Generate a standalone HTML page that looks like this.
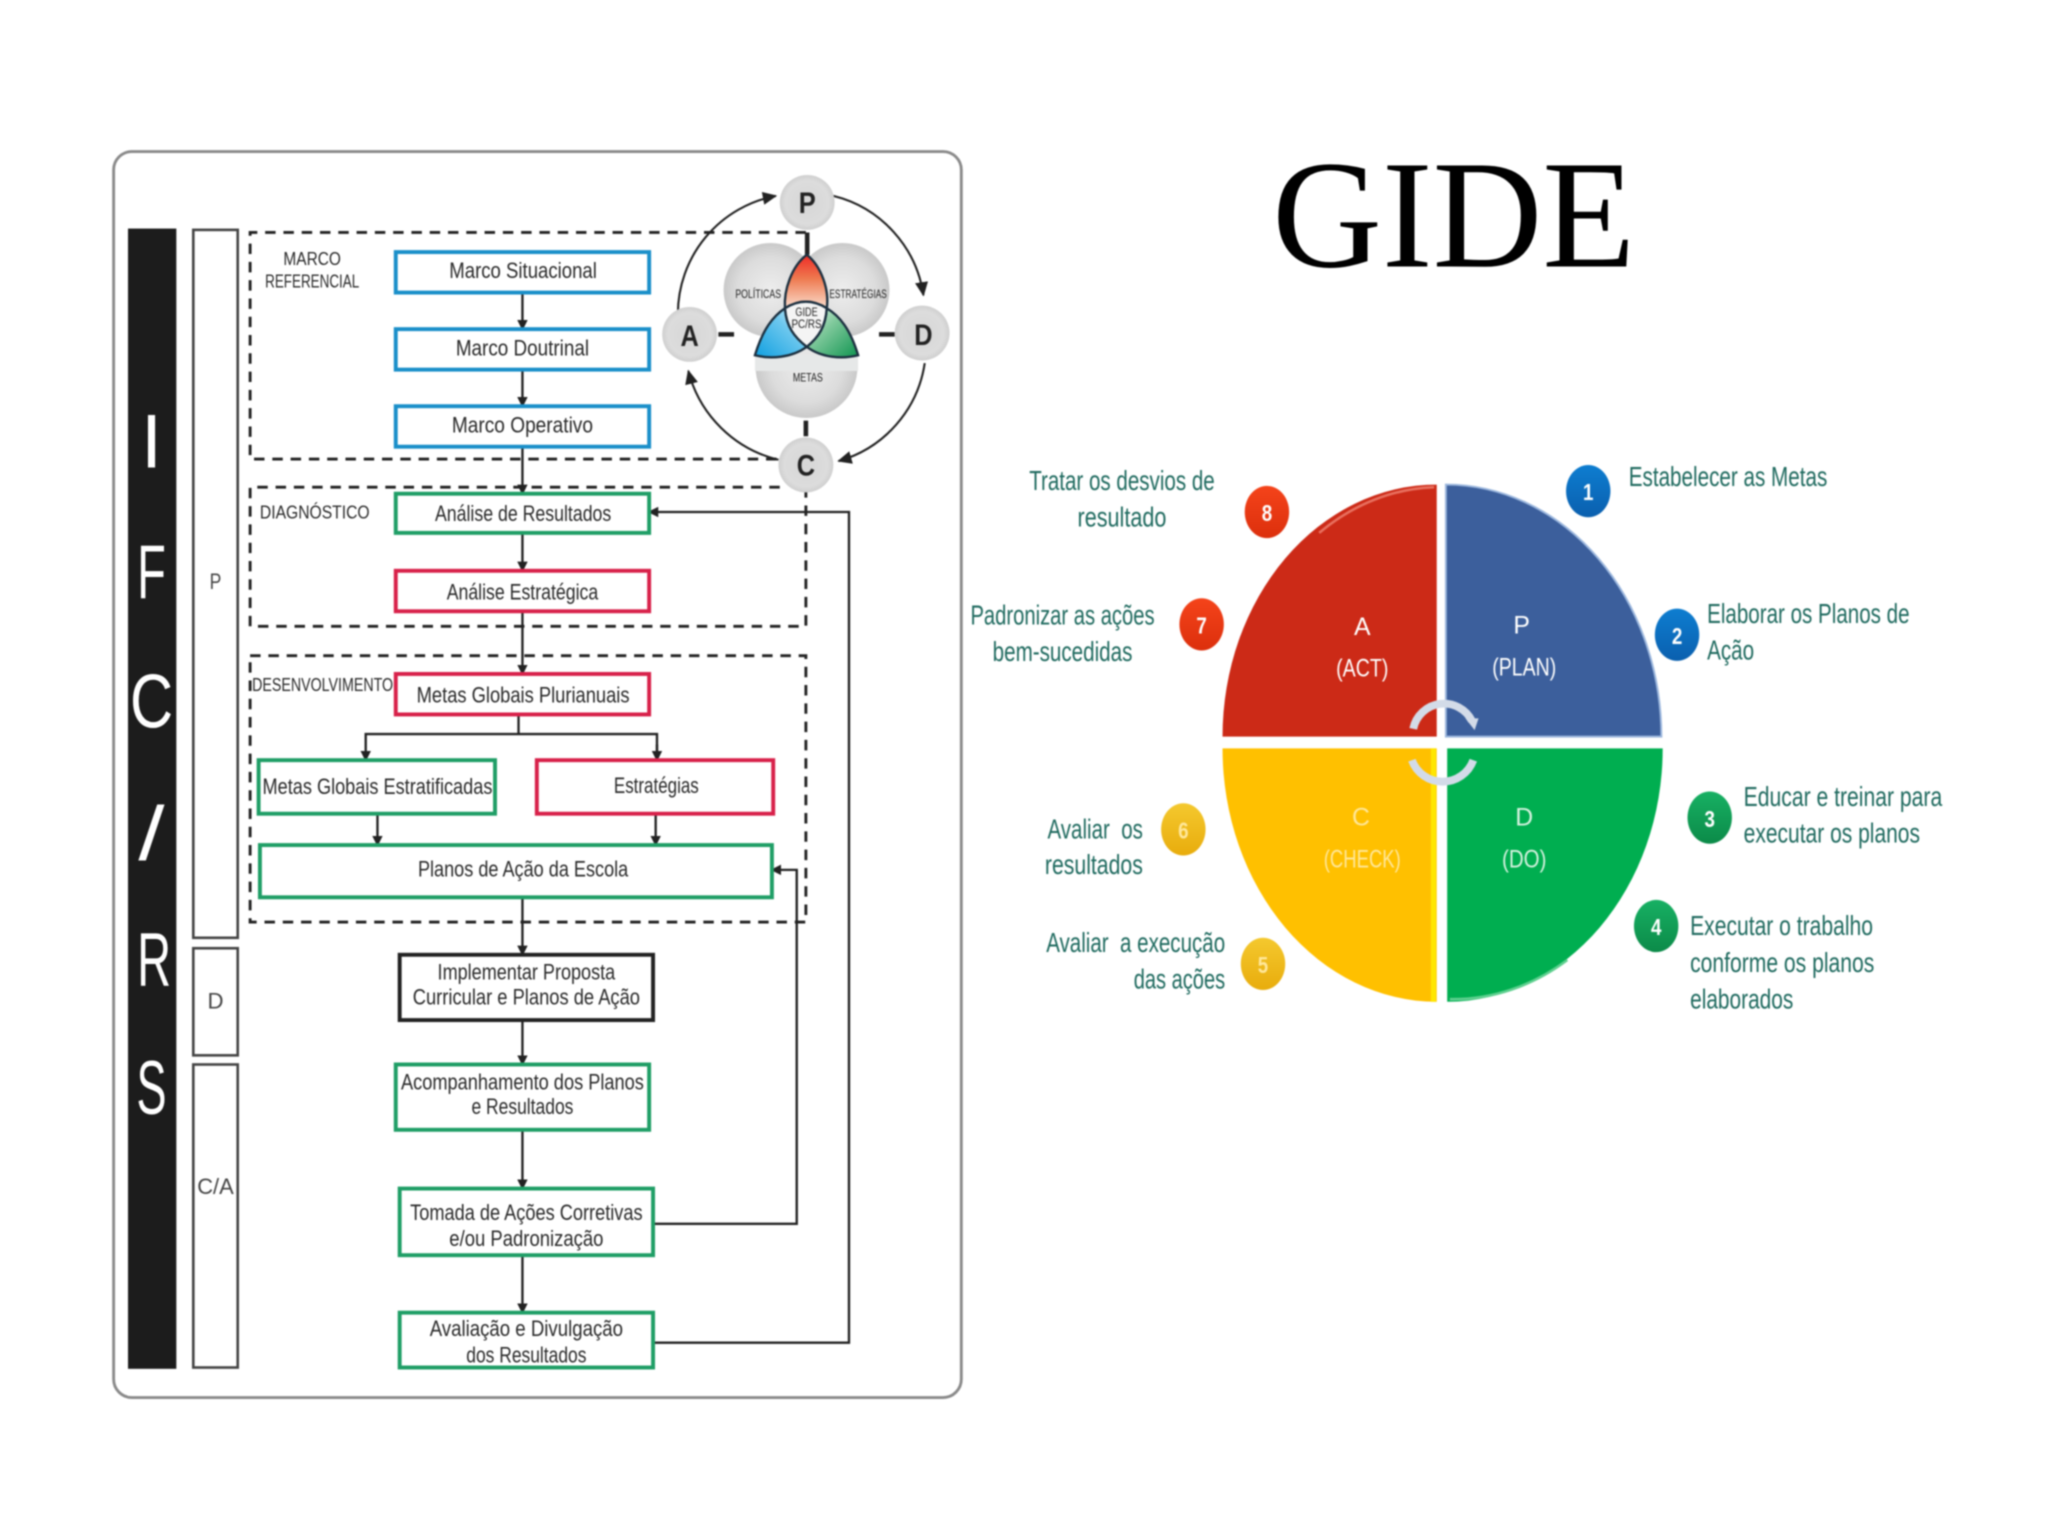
<!DOCTYPE html>
<html><head><meta charset="utf-8"><title>GIDE</title>
<style>
html,body{margin:0;padding:0;background:#fff}
svg{display:block;width:2048px;height:1536px;filter:blur(.9px)}
text{font-family:"Liberation Sans",sans-serif}
.q{font-size:19px;fill:#fff;text-anchor:middle}
.n{font-size:18px;fill:#fff;font-weight:bold;text-anchor:middle}
.b{fill:#fff;stroke-width:3}
.ln{fill:none;stroke:#222;stroke-width:1.8}
.d{fill:none;stroke:#222;stroke-width:2.2;stroke-dasharray:8 6}
.l{font-size:58px;fill:#fff;text-anchor:middle}
.pd{font-size:23px;font-weight:bold;fill:#222;text-anchor:middle}
</style></head><body>
<svg viewBox="0 0 1568 1176" xmlns="http://www.w3.org/2000/svg">
<defs>
<radialGradient id="c"><stop offset="0" stop-color="#ededed"/><stop offset=".7" stop-color="#dcdcdc"/><stop offset="1" stop-color="#c9c9c9"/></radialGradient>
<radialGradient id="c2"><stop offset="0" stop-color="#d6d6d6"/><stop offset=".8" stop-color="#dcdcdc"/><stop offset="1" stop-color="#cfcfcf"/></radialGradient>
<linearGradient id="gr" x1="0" y1="0" x2="0" y2="1"><stop offset="0" stop-color="#ee2a25"/><stop offset=".45" stop-color="#ee7a50"/><stop offset="1" stop-color="#fadccc"/></linearGradient>
<linearGradient id="gb" x1="0" y1="1" x2="1" y2="0"><stop offset="0" stop-color="#0f9fe0"/><stop offset=".6" stop-color="#6cc7ee"/><stop offset="1" stop-color="#dff2fb"/></linearGradient>
<linearGradient id="gg" x1="1" y1="1" x2="0" y2="0"><stop offset="0" stop-color="#0f9450"/><stop offset=".6" stop-color="#80c99c"/><stop offset="1" stop-color="#e4f3e9"/></linearGradient>
<linearGradient id="bb" x1="0" y1="0" x2="0" y2="1"><stop offset="0" stop-color="#0d7dd0"/><stop offset="1" stop-color="#0a5fae"/></linearGradient>
<linearGradient id="bg" x1="0" y1="0" x2="0" y2="1"><stop offset="0" stop-color="#17b063"/><stop offset="1" stop-color="#0b8a48"/></linearGradient>
<linearGradient id="by" x1="0" y1="0" x2="0" y2="1"><stop offset="0" stop-color="#f4c82e"/><stop offset="1" stop-color="#e8ac0c"/></linearGradient>
<linearGradient id="br" x1="0" y1="0" x2="0" y2="1"><stop offset="0" stop-color="#f4431a"/><stop offset="1" stop-color="#dc2f0c"/></linearGradient>
<marker id="a" markerWidth="8" markerHeight="8" refX="7" refY="4" orient="auto" markerUnits="userSpaceOnUse"><path d="M0,0L8,4L0,8Z" fill="#222"/></marker>
<marker id="a2" markerWidth="11" markerHeight="10" refX="10" refY="5" orient="auto" markerUnits="userSpaceOnUse"><path d="M0,0L11,5L0,10Z" fill="#222"/></marker>
</defs>
<rect width="1568" height="1176" fill="#fff"/>

<!-- left panel -->
<rect x="87" y="116" width="649" height="954" rx="14" fill="#fff" stroke="#8a8a8a" stroke-width="2.2"/>
<rect x="98" y="175" width="37" height="873" fill="#1c1c1c"/>
<text class="l" x="116" y="358">I</text>
<text class="l" x="116" y="458" textLength="22" lengthAdjust="spacingAndGlyphs">F</text>
<text class="l" x="116" y="557" textLength="33" lengthAdjust="spacingAndGlyphs">C</text>
<text class="l" x="116" y="658" textLength="20" lengthAdjust="spacingAndGlyphs">/</text>
<text class="l" x="118" y="755" textLength="26" lengthAdjust="spacingAndGlyphs">R</text>
<text class="l" x="116" y="853" textLength="23" lengthAdjust="spacingAndGlyphs">S</text>
<g fill="#fff" stroke="#444" stroke-width="2">
<rect x="148" y="176" width="34" height="542"/>
<rect x="148" y="726" width="34" height="82"/>
<rect x="148" y="815" width="34" height="232"/>
</g>
<g fill="#444" font-size="17" text-anchor="middle">
<text x="165" y="451" textLength="9" lengthAdjust="spacingAndGlyphs">P</text><text x="165" y="772">D</text><text x="165" y="914" textLength="28" lengthAdjust="spacingAndGlyphs">C/A</text>
</g>

<!-- dashed groups -->
<path class="d" d="M617,178H191.500V351.500H600"/>
<path class="d" d="M597,373H191.500V479.500H617V376"/>
<rect class="d" x="191.500" y="502" width="425.500" height="204"/>

<!-- connectors -->
<g class="ln">
<path d="M400,224V252" marker-end="url(#a)"/>
<path d="M400,283V311" marker-end="url(#a)"/>
<path d="M400,342V378" marker-end="url(#a)"/>
<path d="M400,408V437" marker-end="url(#a)"/>
<path d="M400,468V516" marker-end="url(#a)"/>
<path d="M397,547V562"/>
<path d="M503,582V562H280V582" marker-end="url(#a)"/>
<path d="M503,570V582" marker-end="url(#a)"/>
<path d="M289,623V647" marker-end="url(#a)"/>
<path d="M502,623V647" marker-end="url(#a)"/>
<path d="M400,687V731" marker-end="url(#a)"/>
<path d="M400,781V815" marker-end="url(#a)"/>
<path d="M400,865V910" marker-end="url(#a)"/>
<path d="M400,961V1005" marker-end="url(#a)"/>
<path d="M500,937H610V666H591" marker-end="url(#a)"/>
<path d="M500,1028H650V392H497" marker-end="url(#a)"/>
</g>

<!-- flow boxes -->
<g class="b" stroke="#1a8fc9">
<rect x="303" y="193" width="194" height="31"/>
<rect x="303" y="252" width="194" height="31"/>
<rect x="303" y="311" width="194" height="31"/>
</g>
<g class="b" stroke="#1f9e66">
<rect x="303" y="378" width="194" height="30"/>
<rect x="198" y="582" width="181" height="41"/>
<rect x="199" y="647" width="392" height="40"/>
<rect x="303" y="815" width="194" height="50"/>
<rect x="306" y="910" width="194" height="51"/>
<rect x="306" y="1005" width="194" height="42"/>
</g>
<g class="b" stroke="#d8214a">
<rect x="303" y="437" width="194" height="31"/>
<rect x="303" y="516" width="194" height="31"/>
<rect x="411" y="582" width="181" height="41"/>
</g>
<rect class="b" stroke="#222" x="306" y="731" width="194" height="50"/>

<g fill="#2a2a2a" font-size="17">
<text x="344" y="213" textLength="113" lengthAdjust="spacingAndGlyphs">Marco Situacional</text>
<text x="349" y="272" textLength="102" lengthAdjust="spacingAndGlyphs">Marco Doutrinal</text>
<text x="346" y="331" textLength="108" lengthAdjust="spacingAndGlyphs">Marco Operativo</text>
<text x="333" y="399" textLength="135" lengthAdjust="spacingAndGlyphs">Análise de Resultados</text>
<text x="342" y="459" textLength="116" lengthAdjust="spacingAndGlyphs">Análise Estratégica</text>
<text x="319" y="538" textLength="163" lengthAdjust="spacingAndGlyphs">Metas Globais Plurianuais</text>
<text x="201" y="608" textLength="176" lengthAdjust="spacingAndGlyphs">Metas Globais Estratificadas</text>
<text x="470" y="607" textLength="65" lengthAdjust="spacingAndGlyphs">Estratégias</text>
<text x="320" y="671" textLength="161" lengthAdjust="spacingAndGlyphs">Planos de Ação da Escola</text>
<text x="335" y="750" textLength="136" lengthAdjust="spacingAndGlyphs">Implementar Proposta</text>
<text x="316" y="769" textLength="174" lengthAdjust="spacingAndGlyphs">Curricular e Planos de Ação</text>
<text x="307" y="834" textLength="186" lengthAdjust="spacingAndGlyphs">Acompanhamento dos Planos</text>
<text x="361" y="853" textLength="78" lengthAdjust="spacingAndGlyphs">e Resultados</text>
<text x="314" y="934" textLength="178" lengthAdjust="spacingAndGlyphs">Tomada de Ações Corretivas</text>
<text x="344" y="954" textLength="118" lengthAdjust="spacingAndGlyphs">e/ou Padronização</text>
<text x="329" y="1023" textLength="148" lengthAdjust="spacingAndGlyphs">Avaliação e Divulgação</text>
<text x="357" y="1043" textLength="92" lengthAdjust="spacingAndGlyphs">dos Resultados</text>
</g>
<g fill="#2a2a2a" font-size="14">
<text x="217" y="203" textLength="44" lengthAdjust="spacingAndGlyphs">MARCO</text>
<text x="203" y="220" textLength="72" lengthAdjust="spacingAndGlyphs">REFERENCIAL</text>
<text x="199" y="397" textLength="84" lengthAdjust="spacingAndGlyphs">DIAGNÓSTICO</text>
<text x="193" y="529" textLength="108" lengthAdjust="spacingAndGlyphs">DESENVOLVIMENTO</text>
</g>

<!-- PDCA mini -->
<g fill="none" stroke="#222" stroke-width="1.6">
<path d="M638,150A92,92 0 0 1 707,226" marker-end="url(#a2)"/>
<path d="M708,278A92,92 0 0 1 642,353" marker-end="url(#a2)"/>
<path d="M596,352A94,94 0 0 1 527,284" marker-end="url(#a2)"/>
<path d="M519,240A92,92 0 0 1 594,150" marker-end="url(#a2)"/>
</g>
<g stroke="#222" stroke-width="3.500">
<path d="M618,178V195M550,256H562M673,256H685M617,322V334"/>
</g>
<circle cx="590" cy="222" r="36" fill="url(#c)"/>
<circle cx="645" cy="222" r="36" fill="url(#c)"/>
<circle cx="617.500" cy="281" r="39" fill="url(#c)"/>
<rect x="578" y="272" width="79" height="12" fill="#e6e8e8"/>
<circle cx="618" cy="155" r="21" fill="url(#c2)"/>
<circle cx="706" cy="255" r="21" fill="url(#c2)"/>
<circle cx="617" cy="356" r="21" fill="url(#c2)"/>
<circle cx="528" cy="256" r="21" fill="url(#c2)"/>
<g stroke="#1c3040" stroke-width="1.800">
<path d="M617.700,195C606,204 600,222 601,236Q617,226 633,236C635,222 629,204 617.700,195Z" fill="url(#gr)"/>
<path d="M578,272C584,252 592,242 601,236C602,250 608,258 617.700,265.500C606,274 590,275 578,272Z" fill="url(#gb)"/>
<path d="M657,272C651,252 643,242 633,236C632,250 627,258 617.700,265.500C629,274 645,275 657,272Z" fill="url(#gg)"/>
<path d="M601,236Q617,226 633,236C632,250 627,258 617.700,265.500C608,258 602,250 601,236Z" fill="#f4f4f4"/>
</g>
<g fill="#222" font-size="9">
<text x="563" y="228" textLength="35" lengthAdjust="spacingAndGlyphs">POLÍTICAS</text>
<text x="635" y="228" textLength="44" lengthAdjust="spacingAndGlyphs">ESTRATÉGIAS</text>
<text x="609" y="242" textLength="17" lengthAdjust="spacingAndGlyphs">GIDE</text>
<text x="606" y="251" textLength="23" lengthAdjust="spacingAndGlyphs">PC/RS</text>
<text x="607" y="292" textLength="23" lengthAdjust="spacingAndGlyphs">METAS</text>
</g>
<text class="pd" x="618" y="163" textLength="13" lengthAdjust="spacingAndGlyphs">P</text>
<text class="pd" x="707" y="264" textLength="14" lengthAdjust="spacingAndGlyphs">D</text>
<text class="pd" x="617" y="364" textLength="14" lengthAdjust="spacingAndGlyphs">C</text>
<text class="pd" x="528" y="265" textLength="14" lengthAdjust="spacingAndGlyphs">A</text>

<!-- Title -->
<text x="974" y="204" font-size="118" textLength="278" lengthAdjust="spacingAndGlyphs" fill="#000" style="font-family:'Liberation Serif',serif">GIDE</text>

<!-- PDCA wheel -->
<path d="M1100,371A164,193 0 0 0 936,564H1100Z" fill="#cc2a17"/>
<path d="M1098,373A160,190 0 0 0 1010,408" fill="none" stroke="#e8705f" stroke-width="2"/>
<path d="M1107,371A165,193 0 0 1 1272,564H1107Z" fill="#3c5f9c" stroke="#9db8de" stroke-width="1.500"/>
<path d="M1100,573H936A164,194 0 0 0 1100,767Z" fill="#ffc000"/>
<path d="M1097.500,573V767" stroke="#ffe600" stroke-width="4"/>
<path d="M1108,573H1273A165,194 0 0 1 1108,767Z" fill="#00ae50"/>
<path d="M1110,765A163,192 0 0 0 1200,735" fill="none" stroke="#5fd08f" stroke-width="2"/>
<g fill="none" stroke="#d3dbe8" stroke-width="6">
<path d="M1082,558A24,24 0 0 1 1127,552"/>
<path d="M1081,582A25,25 0 0 0 1128,582"/>
</g>
<path d="M1122,550L1132,550L1129,559Z" fill="#d3dbe8"/>
<text class="q" x="1043" y="486">A</text><text class="q" x="1043" y="518" textLength="40" lengthAdjust="spacingAndGlyphs">(ACT)</text>
<text class="q" x="1165" y="485">P</text><text class="q" x="1167" y="517" textLength="49" lengthAdjust="spacingAndGlyphs">(PLAN)</text>
<text class="q" x="1042" y="632" style="fill:#ffe79a">C</text><text class="q" x="1043" y="664" textLength="59" lengthAdjust="spacingAndGlyphs" style="fill:#ffe79a">(CHECK)</text>
<text class="q" x="1167" y="632" style="fill:#d5f2df">D</text><text class="q" x="1167" y="664" textLength="34" lengthAdjust="spacingAndGlyphs" style="fill:#d5f2df">(DO)</text>

<!-- badges -->
<ellipse cx="1216" cy="376" rx="17" ry="20" fill="url(#bb)"/>
<ellipse cx="1284" cy="486" rx="17" ry="20" fill="url(#bb)"/>
<ellipse cx="1309" cy="626" rx="17" ry="20" fill="url(#bg)"/>
<ellipse cx="1268" cy="709" rx="17" ry="20" fill="url(#bg)"/>
<ellipse cx="967" cy="738" rx="17" ry="20" fill="url(#by)"/>
<ellipse cx="906" cy="635" rx="17" ry="20" fill="url(#by)"/>
<ellipse cx="920" cy="478" rx="17" ry="20" fill="url(#br)"/>
<ellipse cx="970" cy="392" rx="17" ry="20" fill="url(#br)"/>
<text class="n" x="1216" y="383" textLength="8" lengthAdjust="spacingAndGlyphs">1</text>
<text class="n" x="1284" y="493" textLength="8" lengthAdjust="spacingAndGlyphs">2</text>
<text class="n" x="1309" y="633" textLength="8" lengthAdjust="spacingAndGlyphs">3</text>
<text class="n" x="1268" y="716" textLength="8" lengthAdjust="spacingAndGlyphs">4</text>
<text class="n" x="967" y="745" textLength="8" lengthAdjust="spacingAndGlyphs" style="fill:#ffe79a">5</text>
<text class="n" x="906" y="642" textLength="8" lengthAdjust="spacingAndGlyphs" style="fill:#ffe79a">6</text>
<text class="n" x="920" y="485" textLength="8" lengthAdjust="spacingAndGlyphs">7</text>
<text class="n" x="970" y="399" textLength="8" lengthAdjust="spacingAndGlyphs">8</text>

<!-- labels -->
<g fill="#1f6a5f" font-size="21">
<text x="1247" y="372" textLength="152" lengthAdjust="spacingAndGlyphs">Estabelecer as Metas</text>
<text x="1307" y="477" textLength="155" lengthAdjust="spacingAndGlyphs">Elaborar os Planos de</text>
<text x="1307" y="505" textLength="36" lengthAdjust="spacingAndGlyphs">Ação</text>
<text x="1335" y="617" textLength="152" lengthAdjust="spacingAndGlyphs">Educar e treinar para</text>
<text x="1335" y="645" textLength="135" lengthAdjust="spacingAndGlyphs">executar os planos</text>
<text x="1294" y="716" textLength="140" lengthAdjust="spacingAndGlyphs">Executar o trabalho</text>
<text x="1294" y="744" textLength="141" lengthAdjust="spacingAndGlyphs">conforme os planos</text>
<text x="1294" y="772" textLength="79" lengthAdjust="spacingAndGlyphs">elaborados</text>
<text x="788" y="375" textLength="142" lengthAdjust="spacingAndGlyphs">Tratar os desvios de</text>
<text x="825" y="403" textLength="68" lengthAdjust="spacingAndGlyphs">resultado</text>
<text x="743" y="478" textLength="141" lengthAdjust="spacingAndGlyphs">Padronizar as ações</text>
<text x="760" y="506" textLength="107" lengthAdjust="spacingAndGlyphs">bem-sucedidas</text>
<text x="802" y="642" textLength="73" lengthAdjust="spacingAndGlyphs" xml:space="preserve">Avaliar  os</text>
<text x="800" y="669" textLength="75" lengthAdjust="spacingAndGlyphs">resultados</text>
<text x="801" y="729" textLength="137" lengthAdjust="spacingAndGlyphs" xml:space="preserve">Avaliar  a execução</text>
<text x="868" y="757" textLength="70" lengthAdjust="spacingAndGlyphs">das ações</text>
</g>
</svg>
</body></html>
